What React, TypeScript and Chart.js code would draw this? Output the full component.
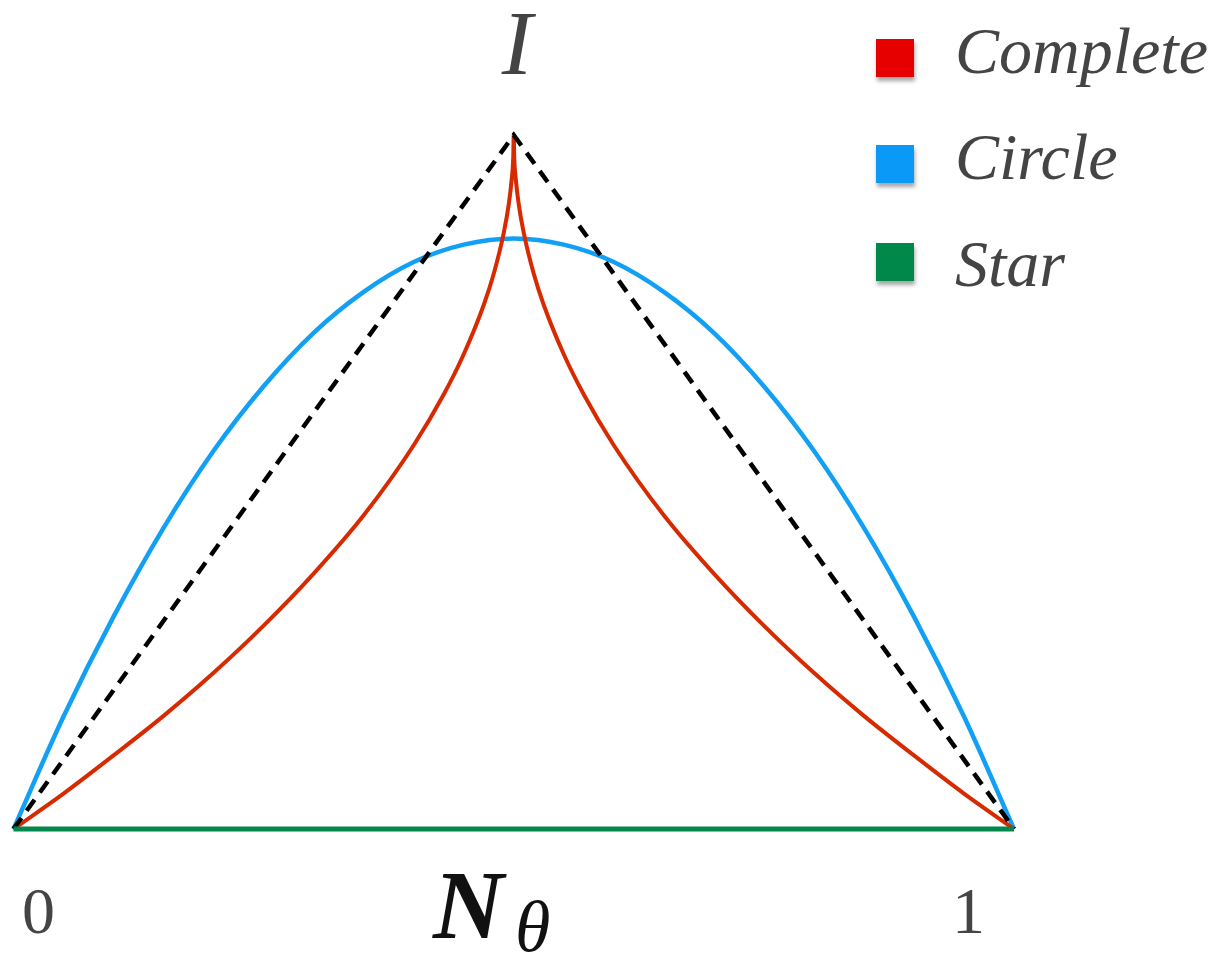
import React, { useEffect, useRef } from "react";
import { Chart, registerables } from "chart.js";

Chart.register(...registerables);

// Data
const legendLabels = ["Complete", "Circle", "Star"];
const legendColors = ["#e60000", "#0a99f7", "#00884a"];

const completeX = [0, 0.05, 0.1, 0.15, 0.2, 0.25, 0.3, 0.35, 0.4, 0.43, 0.45, 0.47, 0.48, 0.49, 0.495, 0.498, 0.4995, 0.5, 0.5005, 0.502, 0.505, 0.51, 0.52, 0.53, 0.55, 0.57, 0.6, 0.65, 0.7, 0.75, 0.8, 0.85, 0.9, 0.95, 1];
const completeY = [0, 0.051, 0.106, 0.163, 0.225, 0.293, 0.368, 0.452, 0.553, 0.626, 0.684, 0.755, 0.8, 0.859, 0.9, 0.937, 0.968, 1.0, 0.968, 0.937, 0.9, 0.859, 0.8, 0.755, 0.684, 0.626, 0.553, 0.452, 0.368, 0.293, 0.225, 0.163, 0.106, 0.051, 0];

const circleX = [0, 0.05, 0.1, 0.15, 0.2, 0.25, 0.3, 0.35, 0.4, 0.45, 0.5, 0.55, 0.6, 0.65, 0.7, 0.75, 0.8, 0.85, 0.9, 0.95, 1];
const circleY = [0, 0.162, 0.306, 0.434, 0.545, 0.638, 0.715, 0.774, 0.817, 0.842, 0.851, 0.842, 0.817, 0.774, 0.715, 0.638, 0.545, 0.434, 0.306, 0.162, 0];

const starX = [0, 1];
const starY = [0, 0];

const boundX = [0, 0.5, 1];
const boundY = [0, 1, 0];

const xTickLabels = ["0", "1"];

const toPts = (xs: number[], ys: number[]) => xs.map((x, i) => ({ x, y: ys[i] }));

export default function App() {
  const canvasRef = useRef<HTMLCanvasElement | null>(null);

  useEffect(() => {
    if (!canvasRef.current) return;
    const chart = new Chart(canvasRef.current, {
      type: "line",
      data: {
        datasets: [
          {
            label: "Star",
            data: toPts(starX, starY),
            borderColor: "#00874b",
            borderWidth: 5,
            pointRadius: 0,
            clip: false,
            order: 0,
          } as any,
          {
            label: "bound",
            data: toPts(boundX, boundY),
            borderColor: "#000000",
            borderWidth: 4.5,
            borderDash: [13.5, 9],
            pointRadius: 0,
            clip: false,
            order: 1,
          } as any,
          {
            label: "Complete",
            data: toPts(completeX, completeY),
            borderColor: "#d72a00",
            borderWidth: 4,
            pointRadius: 0,
            cubicInterpolationMode: "monotone",
            clip: false,
            order: 2,
          } as any,
          {
            label: "Circle",
            data: toPts(circleX, circleY),
            borderColor: "#12a0f5",
            borderWidth: 4.5,
            pointRadius: 0,
            cubicInterpolationMode: "monotone",
            clip: false,
            order: 3,
          } as any,
        ],
      },
      options: {
        responsive: true,
        maintainAspectRatio: false,
        animation: false,
        layout: { padding: { left: 13.5, right: 204, top: 135, bottom: 126 } },
        scales: {
          x: { type: "linear", min: 0, max: 1, display: false },
          y: { type: "linear", min: 0, max: 1, display: false },
        },
        plugins: {
          legend: { display: false },
          tooltip: { enabled: false },
        },
      },
    });
    return () => chart.destroy();
  }, []);

  const serif = "'Liberation Serif', 'Times New Roman', serif";
  const legendTops = [17.7, 123.7, 231];
  const squareTops = [39, 145, 243];

  return (
    <div style={{ position: "absolute", left: 0, top: 0, width: 1218, height: 955, background: "#fff", overflow: "hidden" }}>
      <canvas ref={canvasRef} style={{ position: "absolute", left: 0, top: 0 }} />
      <div style={{ position: "absolute", left: 0, top: 0, width: 1218, height: 955 }}>
        {/* y-axis label */}
        <span style={{ position: "absolute", left: 467, width: 100, textAlign: "center", top: -3, fontFamily: serif, fontStyle: "italic", fontSize: 92, lineHeight: "92px", color: "#444" }}>I</span>
        {/* x tick labels */}
        <span style={{ position: "absolute", left: 22, top: 877.7, fontFamily: serif, fontSize: 66, lineHeight: "66px", color: "#444" }}>{xTickLabels[0]}</span>
        <span style={{ position: "absolute", left: 952, top: 877.7, fontFamily: serif, fontSize: 66, lineHeight: "66px", color: "#444" }}>{xTickLabels[1]}</span>
        {/* x-axis label */}
        <span style={{ position: "absolute", left: 433, top: 856, fontFamily: serif, fontStyle: "italic", fontWeight: "bold", fontSize: 98, lineHeight: "98px", color: "#111" }}>N</span>
        <span style={{ position: "absolute", left: 515, top: 891, fontFamily: serif, fontStyle: "italic", fontSize: 72, lineHeight: "72px", color: "#111" }}>θ</span>
        {/* legend */}
        {legendLabels.map((lab, i) => (
          <React.Fragment key={lab}>
            <div style={{ position: "absolute", left: 876, top: squareTops[i], width: 38, height: 38, background: legendColors[i], boxShadow: "1px 4px 4px rgba(0,0,0,0.35)" }} />
            <span style={{ position: "absolute", left: 955, top: legendTops[i], fontFamily: serif, fontStyle: "italic", fontSize: 66, lineHeight: "66px", color: "#444", whiteSpace: "nowrap" }}>{lab}</span>
          </React.Fragment>
        ))}
      </div>
    </div>
  );
}
